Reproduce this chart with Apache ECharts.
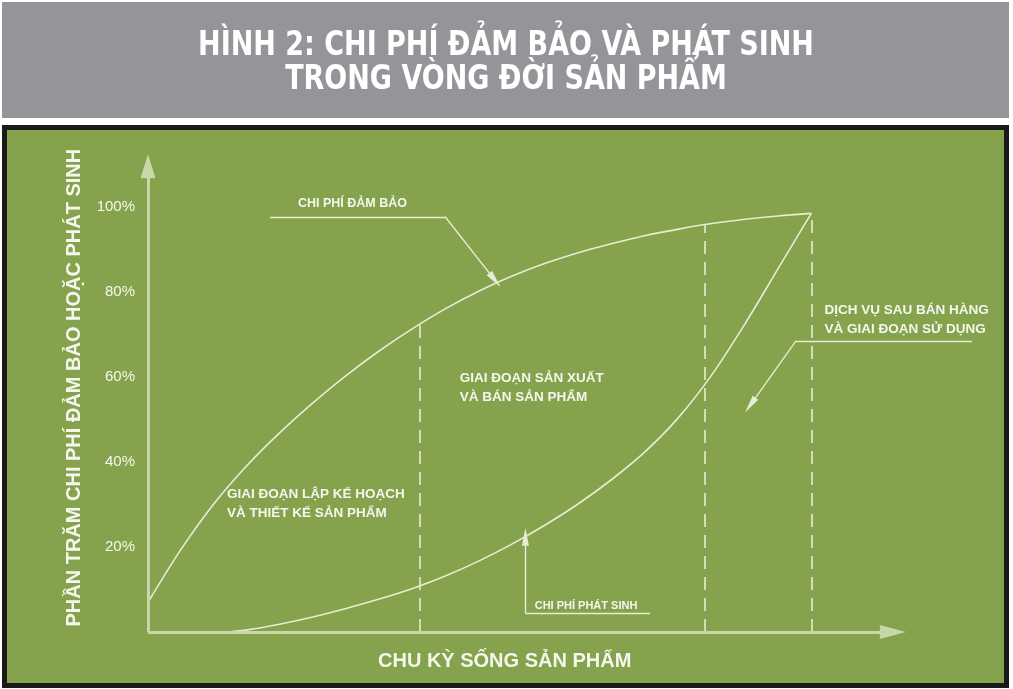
<!DOCTYPE html>
<html>
<head>
<meta charset="utf-8">
<script src="https://cdn.jsdelivr.net/npm/echarts@6/dist/echarts.min.js"></script>
<style>
  html, body { margin: 0; padding: 0; background: #fff; }
  #chart { width: 1013px; height: 689px; }
</style>
</head>
<body>
<div id="chart"></div>
<script>
// trục x: vòng đời sản phẩm, 0 = bắt đầu, 100 = kết thúc
const phaseBounds = [41, 84, 100];
const committedX = [0, 5, 10, 15, 20, 25, 30, 35, 40, 45, 50, 55, 60, 65, 70, 75, 80, 85, 90, 95, 100];
const committedY = [7, 19.5, 30.3, 39.3, 47.1, 54.1, 60.5, 66.3, 71.5, 76.2, 80.3, 83.8, 86.8, 89.3, 91.4, 93.3, 94.8, 96.1, 97.1, 97.9, 98.5];
const incurredX = [12, 15, 20, 25, 30, 35, 40, 45, 50, 55, 60, 65, 70, 75, 80, 85, 90, 95, 100];
const incurredY = [0, 0.5, 1.9, 3.6, 5.6, 7.8, 10.3, 13.3, 16.8, 20.8, 25.3, 30.3, 36, 42.5, 50.5, 60.5, 72.5, 85.5, 98.5];
const yTicks = [20, 40, 60, 80, 100];
const axisEnd = [112.3, 109.6];

// chú thích (toạ độ dữ liệu)
const noteTexts = [
  'CHI PHÍ ĐẢM BẢO',
  'CHI PHÍ PHÁT SINH',
  'GIAI ĐOẠN LẬP KẾ HOẠCH\nVÀ THIẾT KẾ SẢN PHẨM',
  'GIAI ĐOẠN SẢN XUẤT\nVÀ BÁN SẢN PHẨM',
  'DỊCH VỤ SAU BÁN HÀNG\nVÀ GIAI ĐOẠN SỬ DỤNG'
];
const noteAt = [[22.6, 100.9], [58.3, 6.1], [11.9, 30.1], [47.0, 57.4], [102, 73.4]];
const noteSizes = [12.5, 11, 13.5, 13.5, 13.5];
const leaders = [
  [[18.4, 97.7], [44.8, 97.7], [52.3, 82.8]],
  [[75.7, 4.5], [56.9, 4.5], [56.9, 22.4]],
  [[124.2, 68.5], [97.7, 68.5], [90.8, 53.4]]
];

const GREEN = '#85a24d';
const LINE = '#e6edd2';
const AXIS = '#c8d7aa';
const TEXT = '#f5f7ee';

const chart = echarts.init(document.getElementById('chart'));

const zip = (xs, ys) => xs.map((x, i) => [x, ys[i]]);
// giá trị đường cam kết tại x (nội suy giữa hai điểm dữ liệu kề nhau)
function committedAt(x) {
  for (let i = 0; i < committedX.length - 1; i++) {
    const a = committedX[i], b = committedX[i + 1];
    if (x >= a && x <= b) {
      return committedY[i] + (committedY[i + 1] - committedY[i]) * (x - a) / (b - a);
    }
  }
  return committedY[committedY.length - 1];
}

const guideLines = [];
// trục có mũi tên
guideLines.push([
  { coord: [0, 0], symbol: 'none' },
  { coord: [axisEnd[0], 0], symbol: 'triangle', symbolSize: [14, 26] }
]);
guideLines.push([
  { coord: [0, 0], symbol: 'none' },
  { coord: [0, axisEnd[1]], symbol: 'triangle', symbolSize: [15, 24] }
]);
leaders.forEach(pts => {
  for (let i = 0; i < pts.length - 1; i++) {
    const last = i === pts.length - 2;
    guideLines.push([
      { coord: pts[i], symbol: 'none', lineStyle: { width: 1.4, color: LINE } },
      { coord: pts[i + 1], symbol: last ? 'triangle' : 'none', symbolSize: [7, 18] }
    ]);
  }
});

const dashLines = phaseBounds.map(x => [
  { coord: [x, 0] },
  { coord: [x, committedAt(x)] }
]);

const frame = [
  { type: 'rect', z: -10, shape: { x: 2, y: 2, width: 1007, height: 116 }, style: { fill: '#939598' } },
  { type: 'rect', z: -10, shape: { x: 4.5, y: 127.5, width: 1002, height: 558 },
    style: { fill: GREEN, stroke: '#1a1a1a', lineWidth: 5 } },
  {
    type: 'text', z: 5, x: 506, y: 63, scaleY: 1.14,
    style: {
      text: 'HÌNH 2: CHI PHÍ ĐẢM BẢO VÀ PHÁT SINH\nTRONG VÒNG ĐỜI SẢN PHẨM',
      fill: '#ffffff',
      fontSize: 30,
      lineHeight: 30.5,
      fontWeight: 'bold',
      fontFamily: "'Liberation Sans Narrow', 'DejaVu Sans Condensed', sans-serif",
      textAlign: 'center',
      textVerticalAlign: 'middle'
    }
  }
];

chart.setOption({
  animation: false,
  title: {
    text: 'CHU KỲ SỐNG SẢN PHẨM',
    left: 378,
    top: 651,
    padding: 0,
    textStyle: { color: TEXT, fontSize: 20, fontWeight: 'bold', fontFamily: 'Liberation Sans' }
  },
  graphic: frame,
  grid: { left: 148, top: 143.25, bottom: 57, right: 16 },
  xAxis: {
    type: 'value', min: 0, max: 128,
    axisLine: { show: false }, axisTick: { show: false },
    axisLabel: { show: false }, splitLine: { show: false }
  },
  yAxis: {
    type: 'value', min: 0, max: 115, interval: 20,
    name: 'PHẦN TRĂM CHI PHÍ ĐẢM BẢO HOẶC PHÁT SINH',
    nameLocation: 'middle',
    nameGap: 64,
    nameTextStyle: { color: TEXT, fontSize: 20, fontWeight: 'bold', fontFamily: 'Liberation Sans' },
    axisLine: { show: false }, axisTick: { show: false }, splitLine: { show: false },
    axisLabel: {
      margin: 13,
      color: TEXT,
      fontSize: 15,
      fontFamily: 'Liberation Sans',
      formatter: v => (yTicks.indexOf(v) >= 0 ? v + '%' : '')
    }
  },
  series: [
    {
      name: 'Chi phí đảm bảo',
      type: 'line',
      data: zip(committedX, committedY),
      smooth: 0.3,
      showSymbol: false,
      lineStyle: { color: LINE, width: 1.6 },
      markLine: {
        silent: true,
        symbol: 'none',
        label: { show: false },
        lineStyle: { color: LINE, width: 1.6, type: [13, 8] },
        data: dashLines
      }
    },
    {
      name: 'Chi phí phát sinh',
      type: 'line',
      data: zip(incurredX, incurredY),
      smooth: 0.3,
      showSymbol: false,
      lineStyle: { color: LINE, width: 1.6 }
    },
    {
      name: 'guides',
      type: 'line',
      data: [[0, 0]],
      showSymbol: false,
      lineStyle: { width: 0 },
      markLine: {
        silent: true,
        label: { show: false },
        lineStyle: { color: AXIS, width: 3, type: 'solid' },
        itemStyle: { color: AXIS },
        data: guideLines
      }
    }
  ]
});

// đặt chú thích theo toạ độ dữ liệu
const noteGraphics = noteTexts.map((t, i) => {
  const p = chart.convertToPixel({ gridIndex: 0 }, noteAt[i]);
  return {
    type: 'text', z: 5, x: p[0], y: p[1],
    style: {
      text: t, fill: TEXT, fontSize: noteSizes[i], fontWeight: 'bold',
      fontFamily: 'Liberation Sans', lineHeight: 19,
      textAlign: 'left', textVerticalAlign: 'middle'
    }
  };
});
chart.setOption({ graphic: frame.concat(noteGraphics) }, { replaceMerge: ['graphic'] });
</script>
</body>
</html>
